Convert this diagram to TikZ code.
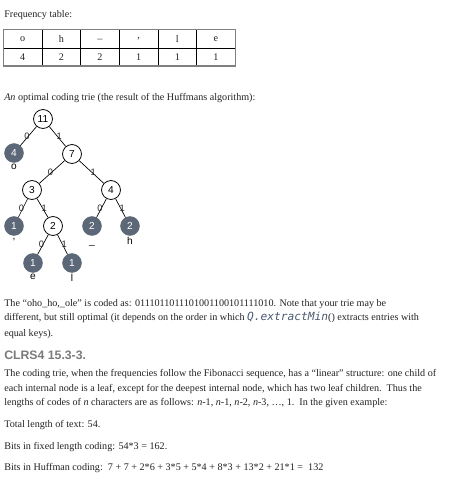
\documentclass[tikz,border=0pt]{standalone}
\usepackage{fontspec}
\setmainfont{Liberation Serif}
\setsansfont{Liberation Sans}
\setmonofont{DejaVu Sans Mono}
\usepackage{tikz}
\usetikzlibrary{positioning, calc}

\definecolor{leafgray}{HTML}{5C6878}
\definecolor{textgray}{HTML}{222222}
\definecolor{headgray}{HTML}{7A7A7A}
\definecolor{codeslate}{HTML}{4A5870}

\begin{document}
\begin{tikzpicture}[x=0.75pt, y=-0.75pt,
    txt/.style={anchor=base west, inner sep=0pt, text=textgray,
      font=\fontsize{7.6pt}{9pt}\selectfont},
    cell/.style={inner sep=0pt, text=textgray,
      font=\fontsize{7.6pt}{9pt}\selectfont},
    inner/.style={circle, draw=black, fill=white, line width=0.6pt,
      minimum size=14.2pt, inner sep=0pt, font=\sffamily\fontsize{7.6pt}{8pt}\selectfont},
    leaf/.style={circle, draw=leafgray, fill=leafgray, text=white,
      minimum size=14.2pt, inner sep=0pt, font=\sffamily\fontsize{7.6pt}{8pt}\selectfont},
    sym/.style={inner sep=0pt, font=\sffamily\fontsize{7.6pt}{8pt}\selectfont},
    bit/.style={midway, inner sep=0.5pt, text=black!85,
      font=\sffamily\fontsize{7pt}{7pt}\selectfont},
    treeedge/.style={draw=black, line width=0.5pt}]

    \useasboundingbox (0,0) rectangle (459,479);

    % Frequency table
    \node[txt] (freqtitle) at (4,17) {Frequency table:};
    \foreach \ch/\fr [count=\i] in {o/4, h/2, \_/2, {,/1}, l/1, e/1} {
      \node[cell] (hd-\i) at ({3.3+38.67*(\i-0.5)}, 38.7) {\ch};
      \node[cell] (fq-\i) at ({3.3+38.67*(\i-0.5)}, 57.2) {\fr};
    }
    \foreach \j in {1,...,5}
      \draw[black, line width=0.6pt] ({3.3+38.67*\j},29.3) -- ({3.3+38.67*\j},66);
    \draw[black, line width=0.6pt] (3.3,48) -- (235.3,48);
    \draw[gray, line width=1pt] (3.3,29.3) rectangle (235.3,66);

    \node[txt] (trietitle) at (4,100)
      {\textit{An} optimal coding trie (the result of the Huffmans algorithm):};

    % Coding trie
    \node[inner] (n11) at (43,119) {11};
    \node[leaf]  (n4o) at (14,153) {4};
    \node[inner] (n7)  at (72,154) {7};
    \node[inner] (n3)  at (32,190) {3};
    \node[inner] (n4)  at (111,190) {4};
    \node[leaf]  (n1c) at (14,226) {1};
    \node[inner] (n2)  at (53,226) {2};
    \node[leaf]  (n2u) at (92,226) {2};
    \node[leaf]  (n2h) at (130,226) {2};
    \node[leaf]  (n1e) at (33,263) {1};
    \node[leaf]  (n1l) at (72,263) {1};

    % Characters under the leaves
    \node[sym, below=0.6pt of n4o] (so) {o};
    \node[sym, below=2pt of n1c]   (sc) {,};
    \node[sym, below=6pt of n2u]   (su) {\_};
    \node[sym, below=0.8pt of n2h] (sh) {h};
    \node[sym, below=0.8pt of n1e] (se) {e};
    \node[sym, below=0.8pt of n1l] (sl) {l};

    % Edges with their bits
    \draw[treeedge] (n11) -- node[bit, left=-1.5pt]  {0} (n4o);
    \draw[treeedge] (n11) -- node[bit, right=-1.5pt] {1} (n7);
    \draw[treeedge] (n7)  -- node[bit, left=-1.5pt]  {0} (n3);
    \draw[treeedge] (n7)  -- node[bit, right=-1.5pt] {1} (n4);
    \draw[treeedge] (n3)  -- node[bit, left=-1.5pt]  {0} (n1c);
    \draw[treeedge] (n3)  -- node[bit, right=-1.5pt] {1} (n2);
    \draw[treeedge] (n4)  -- node[bit, left=-1.5pt]  {0} (n2u);
    \draw[treeedge] (n4)  -- node[bit, right=-1.5pt] {1} (n2h);
    \draw[treeedge] (n2)  -- node[bit, left=-1.5pt]  {0} (n1e);
    \draw[treeedge] (n2)  -- node[bit, right=-1.5pt] {1} (n1l);

    % Coded text
    \node[txt] (p1a) at (4,306)
      {The “oho\_ho,\_ole” is coded as: 0111011011101001100101111010. Note that your trie may be};
    \node[txt] (p1b) at (4,320.7)
      {different, but still optimal (it depends on the order in which
       {\color{codeslate}\ttfamily\itshape\fontsize{8.4pt}{9pt}\selectfont Q.extractMin}() extracts entries with};
    \node[txt] (p1c) at (4,336.5) {equal keys).};

    % Exercise
    \node[txt, text=headgray, font=\sffamily\bfseries\fontsize{9.2pt}{10pt}\selectfont]
      (clrs) at (4,359) {CLRS4 15.3-3.};
    \node[txt] (p2a) at (4,376)
      {The coding trie, when the frequencies follow the Fibonacci sequence, has a “linear” structure: one child of};
    \node[txt] (p2b) at (4,391)
      {each internal node is a leaf, except for the deepest internal node, which has two leaf children.\ \ Thus the};
    \node[txt] (p2c) at (4,405.7)
      {lengths of codes of \textit{n} characters are as follows: \textit{n}-1, \textit{n}-1, \textit{n}-2, \textit{n}-3, …, 1.\ \ In the given example:};
    \node[txt] (total) at (4,427.7) {Total length of text: 54.};
    \node[txt] (fixed) at (4,449) {Bits in fixed length coding: 54*3 = 162.};
    \node[txt] (huff) at (4,470)
      {Bits in Huffman coding:\ \ 7 + 7 + 2*6 + 3*5 + 5*4 + 8*3 + 13*2 + 21*1 =\ \ 132};

\end{tikzpicture}
\end{document}
